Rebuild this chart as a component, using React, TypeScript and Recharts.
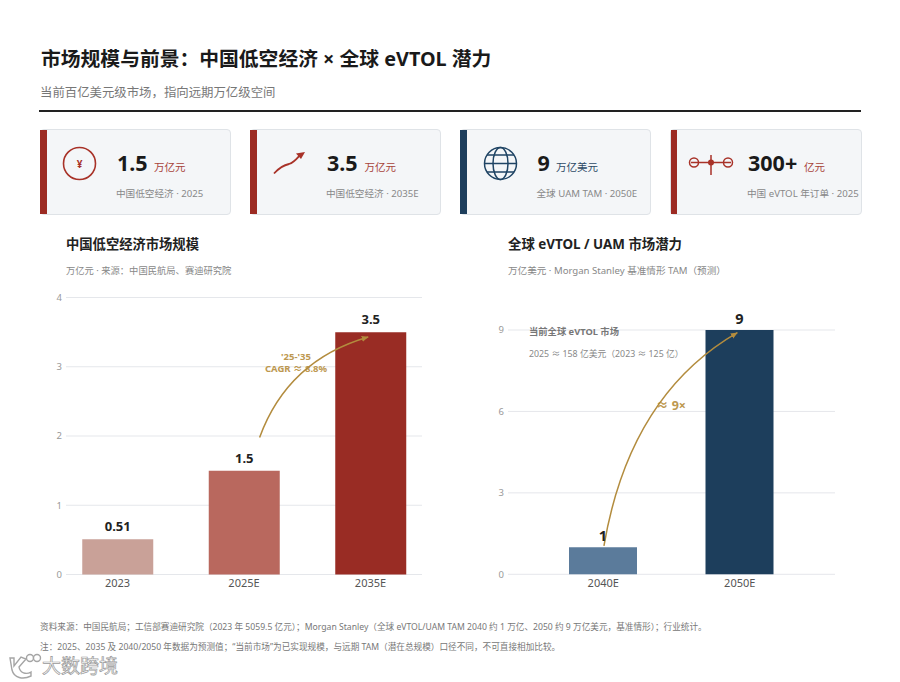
import { BarChart, Bar, CartesianGrid, Cell, LabelList, ReferenceLine, XAxis, YAxis } from 'recharts'

const FONT = '"Noto Sans", "Noto Sans CJK SC", sans-serif'
const RED = '#9c2b23'
const NAVY = '#1d3e5c'
const GOLD = '#b38c3e'

const chinaYears = ['2023', '2025E', '2035E']
const chinaValues = [0.51, 1.5, 3.5]
const chinaColors = ['#c9a198', '#b9685e', '#992c24']
const chinaTicks = [0, 1, 2, 3, 4]

const globalYears = ['2040E', '2050E']
const globalValues = [1, 9]
const globalColors = ['#5b7b9b', '#1d3e5c']
const globalTicks = [0, 3, 6, 9]

const cardValues = ['1.5', '3.5', '9', '300+']
const cardUnits = ['万亿元', '万亿元', '万亿美元', '亿元']
const cardLabels = ['中国低空经济 · 2025', '中国低空经济 · 2035E', '全球 UAM TAM · 2050E', '中国 eVTOL 年订单 · 2025']

const chinaData = chinaYears.map((year, i) => ({ year, value: chinaValues[i] }))
const globalData = globalYears.map((year, i) => ({ year, value: globalValues[i] }))

const cardLeft = [39.5, 249.5, 459.5, 670]
const valueLeft = [117, 327, 537.5, 748]
const unitLeft = [154, 364.5, 556, 804]
const accent = [RED, RED, NAVY, RED]
const unitColor = ['#a8433a', '#a8433a', '#2d4a66', '#a8433a']

function Txt({ x, y, size, color, bold, children }: any) {
  return (
    <div
      style={{
        position: 'absolute',
        left: x,
        top: y,
        transform: 'translateY(-50%)',
        fontSize: size,
        lineHeight: 1.2,
        color,
        fontWeight: bold ? 700 : 400,
        whiteSpace: 'nowrap',
      }}
    >
      {children}
    </div>
  )
}

function CardIcon({ index }: { index: number }) {
  if (index === 0) {
    return (
      <g fill="none" stroke="#a83228" strokeWidth={1.6}>
        <circle cx={79.5} cy={163.5} r={16} />
        <text x={79.5} y={167.5} textAnchor="middle" fontSize={10} fontWeight={700} fill="#a83228" stroke="none">
          ¥
        </text>
      </g>
    )
  }
  if (index === 1) {
    return (
      <g fill="none" stroke="#a83228" strokeWidth={1.8}>
        <path d="M274 173.500 C280 167 284 165 289 164 C295 162 297 158 301 154" />
        <path d="M305 152 L296 153.500 L301 159 Z" fill="#a83228" stroke="none" />
      </g>
    )
  }
  if (index === 2) {
    return (
      <g fill="none" stroke="#1f4464" strokeWidth={1.5}>
        <circle cx={500.5} cy={163.5} r={16} />
        <ellipse cx={500.5} cy={163.5} rx={7.5} ry={16} />
        <path d="M484.500 163.500 H516.500 M487 155 H514 M487 172 H514" />
      </g>
    )
  }
  return (
    <g fill="none" stroke="#a83228" strokeWidth={1.5}>
      <circle cx={694} cy={162.500} r={4.500} />
      <circle cx={728} cy={162.500} r={4.500} />
      <path d="M691 162.500 H731 M711 155 V175" />
      <circle cx={711} cy={162.500} r={3} fill="#a83228" stroke="none" />
    </g>
  )
}

// curved arrow between two chart points, text goes under the line
function growthArrow(id: string, dx1: number, dx2: number, bendX: number, bendY: number, labels: any[]) {
  return (props: any) => {
    const x1 = props.x1 + dx1
    const x2 = props.x2 + dx2
    const cx = (x1 + x2) / 2 + bendX
    const cy = (props.y1 + props.y2) / 2 + bendY
    return (
      <g>
        <defs>
          <marker id={id} markerWidth="8" markerHeight="8" refX="6.5" refY="3" orient="auto" markerUnits="userSpaceOnUse">
            <path d="M0 0 L7 3 L0 6 Z" fill={GOLD} />
          </marker>
        </defs>
        {labels.map((l) => (
          <text key={l.text} x={l.x} y={l.y} textAnchor="middle" fontSize={l.size} fontWeight={700} fill="#bd9850">
            {l.text}
          </text>
        ))}
        <path d={`M${x1} ${props.y1} Q${cx} ${cy} ${x2} ${props.y2}`} fill="none" stroke={GOLD} strokeWidth={1.5} markerEnd={`url(#${id})`} />
      </g>
    )
  }
}

const chinaArrow = growthArrow('arrowChina', 15.6, -2.300, -26, -27, [
  { text: "'25-'35", x: 296, y: 80, size: 9.5 },
  { text: 'CAGR ≈ 8.8%', x: 296, y: 92, size: 9.5 },
])
const globalArrow = growthArrow('arrowGlobal', 0.7, -2.400, -41, -44, [
  { text: '≈ 9×', x: 221, y: 130, size: 12.5 },
])

const axisTick = { fontSize: 9.500, fill: '#999', fontFamily: FONT }
const yearTick = { fontSize: 11, fill: '#555', fontFamily: FONT }

export default function App() {
  return (
    <div style={{ position: 'absolute', left: 0, top: 0, width: 900, height: 682, background: '#fff', overflow: 'hidden', fontFamily: FONT }}>
      <Txt x={41} y={59} size={19.800} color="#1a1a1a" bold>
        市场规模与前景：中国低空经济 × 全球 eVTOL 潜力
      </Txt>
      <Txt x={40} y={92.500} size={12.400} color="#777">
        当前百亿美元级市场，指向远期万亿级空间
      </Txt>
      <div style={{ position: 'absolute', left: 39, top: 110, width: 822, height: 2, background: '#222' }} />

      {cardLeft.map((left, i) => (
        <div
          key={left}
          style={{
            position: 'absolute',
            left,
            top: 128.500,
            width: 191.500,
            height: 86.500,
            boxSizing: 'border-box',
            background: '#f4f6f8',
            border: '1px solid #dfe3e7',
            borderRadius: 4,
          }}
        >
          <div style={{ position: 'absolute', left: -0.500, top: 0, bottom: 0, width: 6.500, background: accent[i] }} />
        </div>
      ))}
      <svg width={900} height={230} style={{ position: 'absolute', left: 0, top: 0 }}>
        {cardLeft.map((left, i) => (
          <CardIcon key={left} index={i} />
        ))}
      </svg>
      {cardValues.map((value, i) => (
        <div key={i}>
          <Txt x={valueLeft[i]} y={162.500} size={21.500} color="#1a1a1a" bold>
            {value}
          </Txt>
          <Txt x={unitLeft[i]} y={167} size={10.500} color={unitColor[i]}>
            {cardUnits[i]}
          </Txt>
          <Txt x={valueLeft[i] - 1} y={194} size={9.650} color="#888">
            {cardLabels[i]}
          </Txt>
        </div>
      ))}

      <Txt x={66} y={245} size={13.300} color="#222" bold>
        中国低空经济市场规模
      </Txt>
      <Txt x={66} y={271} size={9.300} color="#888">
        万亿元 · 来源：中国民航局、赛迪研究院
      </Txt>
      <Txt x={508} y={244} size={13.400} color="#222" bold>
        全球 eVTOL / UAM 市场潜力
      </Txt>
      <Txt x={508} y={271} size={9.600} color="#888">
        万亿美元 · Morgan Stanley 基准情形 TAM（预测）
      </Txt>

      <div style={{ position: 'absolute', left: 0, top: 280 }}>
        <BarChart width={450} height={320} data={chinaData} margin={{ top: 17.500, right: 28, bottom: 5.500, left: 40 }}>
          <CartesianGrid vertical={false} stroke="#e5e7eb" />
          <XAxis dataKey="year" height={20} padding={{ left: -11.750, right: -11.750 }} axisLine={false} tickLine={false} tickSize={0} tickMargin={5} tick={yearTick} interval={0} />
          <YAxis width={26} domain={[0, 4]} ticks={chinaTicks} axisLine={false} tickLine={false} tickSize={0} tickMargin={4} tick={axisTick} />
          <Bar dataKey="value" barSize={71} isAnimationActive={false}>
            {chinaData.map((d, i) => (
              <Cell key={d.year} fill={chinaColors[i]} />
            ))}
            <LabelList dataKey="value" position="top" offset={8} fill="#222" fontSize={13} fontWeight={700} fontFamily={FONT} />
          </Bar>
          <ReferenceLine segment={[{ x: '2025E', y: 1.98 }, { x: '2035E', y: 3.43 }]} shape={chinaArrow} />
        </BarChart>
      </div>

      <div style={{ position: 'absolute', left: 450, top: 280 }}>
        <BarChart width={450} height={320} data={globalData} margin={{ top: 50, right: 65, bottom: 5.700, left: 32 }}>
          <CartesianGrid vertical={false} stroke="#e5e7eb" />
          <XAxis dataKey="year" height={20} padding={{ left: 27, right: 27 }} axisLine={false} tickLine={false} tickSize={0} tickMargin={5} tick={yearTick} interval={0} />
          <YAxis width={26} domain={[0, 9]} ticks={globalTicks} axisLine={false} tickLine={false} tickSize={0} tickMargin={4} tick={axisTick} />
          <Bar dataKey="value" barSize={68} isAnimationActive={false}>
            {globalData.map((d, i) => (
              <Cell key={d.year} fill={globalColors[i]} />
            ))}
            <LabelList dataKey="value" position="top" offset={6} fill="#222" fontSize={14.500} fontWeight={700} fontFamily={FONT} />
          </Bar>
          <ReferenceLine segment={[{ x: '2040E', y: 1.05 }, { x: '2050E', y: 8.9 }]} shape={globalArrow} />
        </BarChart>
      </div>

      <Txt x={529} y={332} size={9.300} color="#777" bold>
        当前全球 eVTOL 市场
      </Txt>
      <Txt x={529} y={354} size={8.800} color="#888">
        2025 ≈ 158 亿美元（2023 ≈ 125 亿）
      </Txt>

      <Txt x={40} y={627} size={8.650} color="#777">
        资料来源：中国民航局；工信部赛迪研究院（2023 年 5059.5 亿元）；Morgan Stanley（全球 eVTOL/UAM TAM 2040 约 1 万亿、2050 约 9 万亿美元，基准情形）；行业统计。
      </Txt>
      <Txt x={40} y={647} size={8.650} color="#777">
        注：2025、2035 及 2040/2050 年数据为预测值；“当前市场”为已实现规模，与远期 TAM（潜在总规模）口径不同，不可直接相加比较。
      </Txt>

      <svg width={40} height={30} style={{ position: 'absolute', left: 6, top: 652 }}>
        <g fill="#fff" stroke="#a5a5a5" strokeWidth={1.4}>
          <path d="M4 6 L8 6 L8 14 L15 5 L20 7 L13 15 C14 21 20 23 25 20 L25 24 C17 28 8 26 6 18 Z" />
          <circle cx={24} cy={6} r={3.500} />
          <circle cx={31} cy={6} r={3.500} />
        </g>
      </svg>
      <div
        style={{
          position: 'absolute',
          left: 42,
          top: 666,
          transform: 'translateY(-50%)',
          fontSize: 19,
          lineHeight: 1.2,
          color: '#fff',
          whiteSpace: 'nowrap',
          WebkitTextStroke: '0.7px #999',
        }}
      >
        大数跨境
      </div>
    </div>
  )
}
